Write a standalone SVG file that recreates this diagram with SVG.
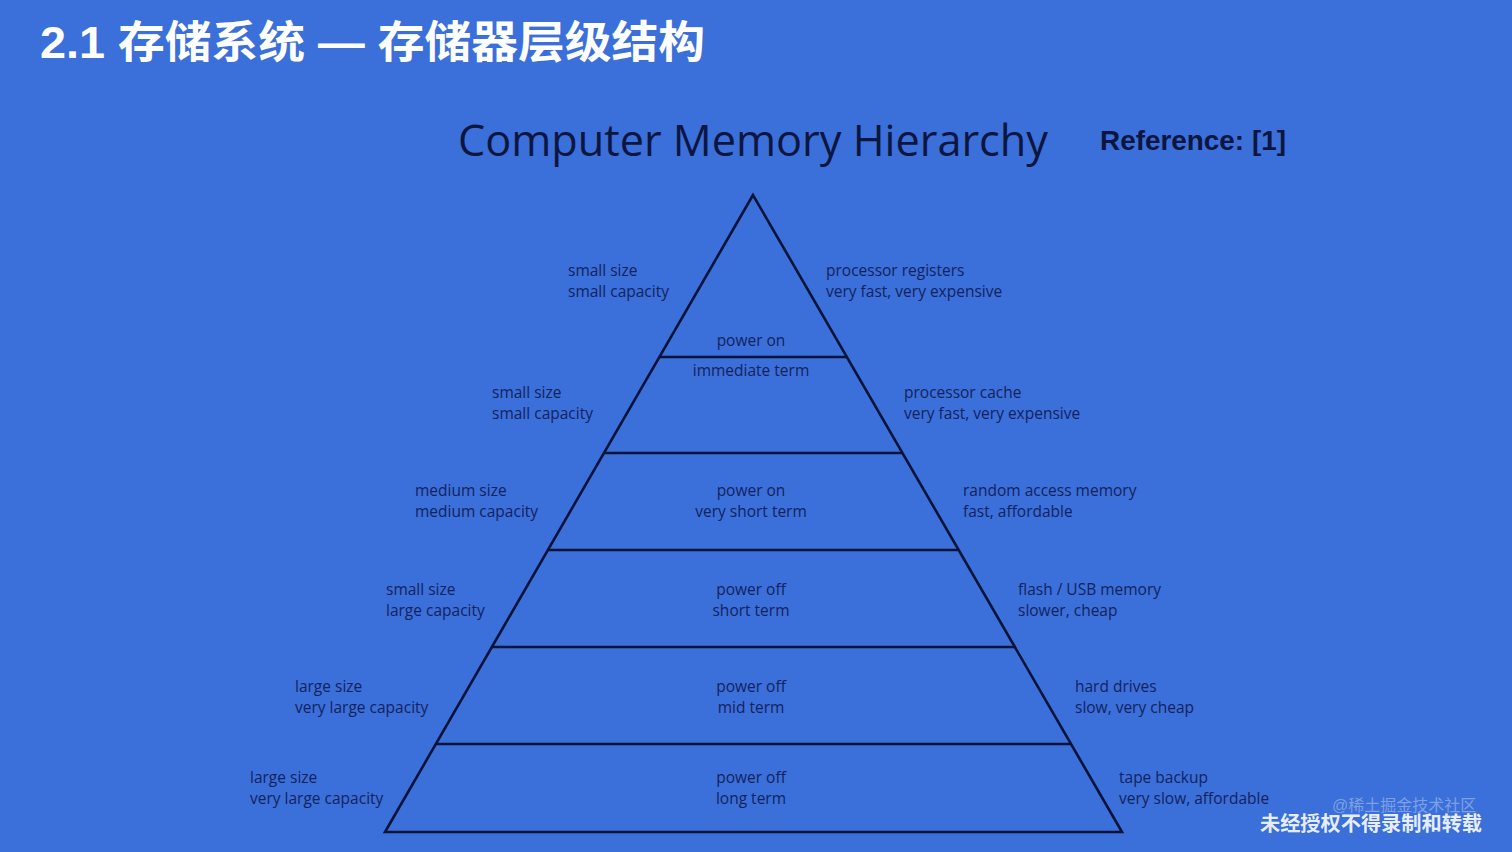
<svg xmlns="http://www.w3.org/2000/svg" width="1512" height="852" viewBox="0 0 1512 852">
<style>
.bg{fill:#3b6fd9}
.lbl{font-family:"Open Sans","Liberation Sans",sans-serif;font-size:15.5px;fill:#13235e}
.ctr{text-anchor:middle}
.ln{stroke:#0a133a;stroke-width:2.6;fill:none}
</style>
<rect class="bg" x="0" y="0" width="1512" height="852"/>
<text x="40" y="58" font-family="'Liberation Sans','Noto Sans CJK SC',sans-serif" font-weight="bold" font-size="44" fill="#ffffff" textLength="665" lengthAdjust="spacingAndGlyphs">2.1 存储系统 — 存储器层级结构</text>
<text x="458" y="156" font-family="'Open Sans','Liberation Sans',sans-serif" font-size="44" fill="#0c1640" textLength="590" lengthAdjust="spacingAndGlyphs">Computer Memory Hierarchy</text>
<text x="1100" y="150" font-family="'Liberation Sans',sans-serif" font-weight="bold" font-size="28" fill="#0c1640" textLength="186" lengthAdjust="spacingAndGlyphs">Reference: [1]</text>
<g id="connectors">
<polygon class="ln" points="753,195 385,832 1122,832"/>
<line class="ln" x1="659" y1="357" x2="847" y2="357"/>
<line class="ln" x1="604" y1="453" x2="902" y2="453"/>
<line class="ln" x1="548" y1="550" x2="958" y2="550"/>
<line class="ln" x1="492" y1="647" x2="1014" y2="647"/>
<line class="ln" x1="436" y1="744" x2="1070" y2="744"/>
</g>
<g id="level1">
<text class="lbl" x="568" y="276">small size</text>
<text class="lbl" x="568" y="297">small capacity</text>
<text class="lbl" x="826" y="276">processor registers</text>
<text class="lbl" x="826" y="297">very fast, very expensive</text>
<text class="lbl ctr" x="751" y="346">power on</text>
</g>
<g id="level2">
<text class="lbl" x="492" y="398">small size</text>
<text class="lbl" x="492" y="419">small capacity</text>
<text class="lbl" x="904" y="398">processor cache</text>
<text class="lbl" x="904" y="419">very fast, very expensive</text>
<text class="lbl ctr" x="751" y="376">immediate term</text>
</g>
<g id="level3">
<text class="lbl" x="415" y="496">medium size</text>
<text class="lbl" x="415" y="517">medium capacity</text>
<text class="lbl" x="963" y="496">random access memory</text>
<text class="lbl" x="963" y="517">fast, affordable</text>
<text class="lbl ctr" x="751" y="496">power on</text>
<text class="lbl ctr" x="751" y="517">very short term</text>
</g>
<g id="level4">
<text class="lbl" x="386" y="595">small size</text>
<text class="lbl" x="386" y="616">large capacity</text>
<text class="lbl" x="1018" y="595">flash / USB memory</text>
<text class="lbl" x="1018" y="616">slower, cheap</text>
<text class="lbl ctr" x="751" y="595">power off</text>
<text class="lbl ctr" x="751" y="616">short term</text>
</g>
<g id="level5">
<text class="lbl" x="295" y="692">large size</text>
<text class="lbl" x="295" y="713">very large capacity</text>
<text class="lbl" x="1075" y="692">hard drives</text>
<text class="lbl" x="1075" y="713">slow, very cheap</text>
<text class="lbl ctr" x="751" y="692">power off</text>
<text class="lbl ctr" x="751" y="713">mid term</text>
</g>
<g id="level6">
<text class="lbl" x="250" y="783">large size</text>
<text class="lbl" x="250" y="804">very large capacity</text>
<text class="lbl" x="1119" y="783">tape backup</text>
<text class="lbl" x="1119" y="804">very slow, affordable</text>
<text class="lbl ctr" x="751" y="783">power off</text>
<text class="lbl ctr" x="751" y="804">long term</text>
</g>
<text x="1332" y="811" font-family="'Liberation Sans','Noto Sans CJK SC',sans-serif" font-size="16" fill="#ffffff" fill-opacity="0.35">@稀土掘金技术社区</text>
<text x="1260" y="831" font-family="'Liberation Sans','Noto Sans CJK SC',sans-serif" font-weight="bold" font-size="20" fill="#ffffff" fill-opacity="0.9" textLength="222" lengthAdjust="spacingAndGlyphs">未经授权不得录制和转载</text>
</svg>
